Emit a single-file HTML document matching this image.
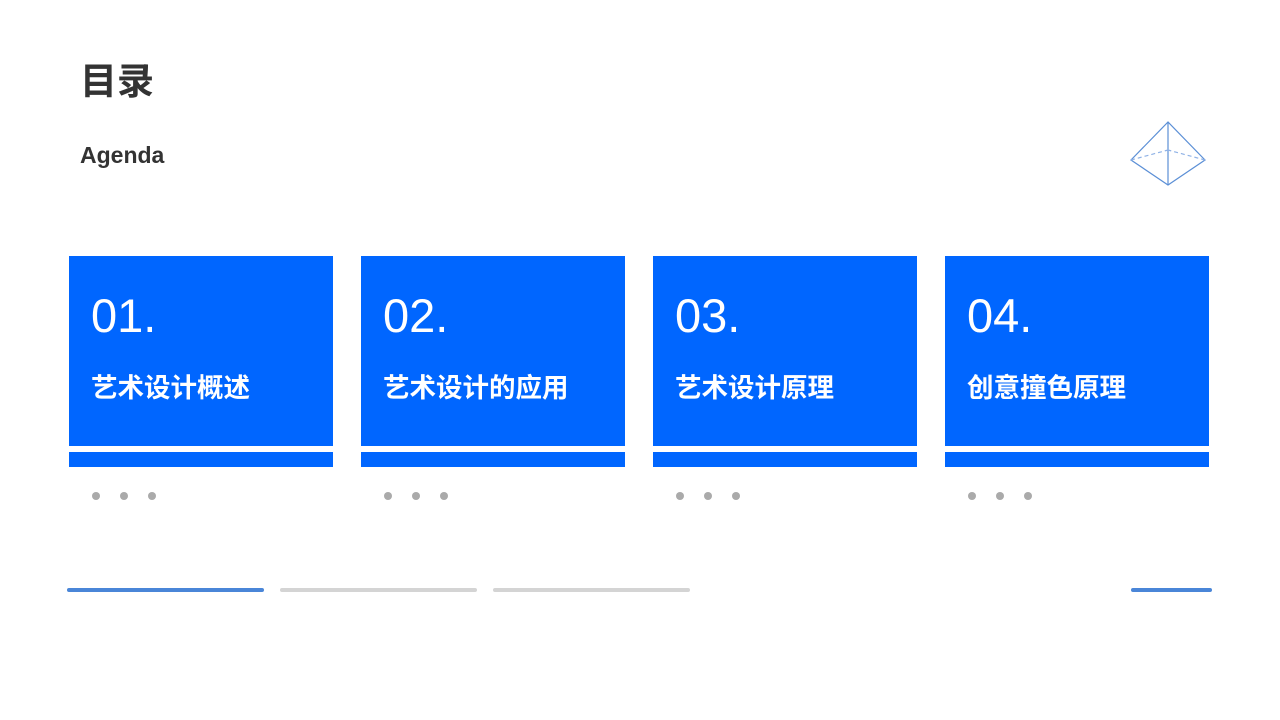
<!DOCTYPE html>
<html><head><meta charset="utf-8"><style>
body{margin:0;width:1280px;height:720px;background:#fff;position:relative;overflow:hidden;font-family:"Liberation Sans","Noto Sans CJK SC",sans-serif}
.a{position:absolute}
.card{position:absolute;top:256px;width:264px;height:190px;background:#0066ff;color:#fff}
.bar{position:absolute;top:452px;width:264px;height:15px;background:#0066ff}
.num{position:absolute;left:22px;top:34px;font-size:47px;line-height:52px}
.t{position:absolute;left:22px;top:114px;font-size:26.5px;font-weight:bold;line-height:36px}
.dot{position:absolute;top:492px;width:8px;height:8px;border-radius:50%;background:#aaa}
.ln{position:absolute;top:588px;height:4px;border-radius:2px}
</style></head><body>
<div class="a" style="left:80px;top:59px;font-size:37px;font-weight:bold;color:#333;line-height:46px">目录</div>
<div class="a" style="left:80px;top:142px;font-size:23px;font-weight:bold;color:#333;line-height:26px">Agenda</div>
<svg class="a" style="left:0;top:0" width="1280" height="720">
<g stroke="#5b8fd6" stroke-width="1.2" fill="none">
<polygon points="1168,122 1131,160 1168,185 1205,160"/>
<line x1="1168" y1="122" x2="1168" y2="185"/>
<g stroke-dasharray="4,3" stroke="#8fb2e6"><line x1="1131" y1="160" x2="1168" y2="150"/><line x1="1205" y1="160" x2="1168" y2="150"/></g>
</g></svg>
<div class="card" style="left:69px"><div class="num">01.</div><div class="t">艺术设计概述</div></div>
<div class="card" style="left:361px"><div class="num">02.</div><div class="t">艺术设计的应用</div></div>
<div class="card" style="left:653px"><div class="num">03.</div><div class="t">艺术设计原理</div></div>
<div class="card" style="left:945px"><div class="num">04.</div><div class="t">创意撞色原理</div></div>
<div class="bar" style="left:69px"></div><div class="bar" style="left:361px"></div><div class="bar" style="left:653px"></div><div class="bar" style="left:945px"></div>
<div class="dot" style="left:92px"></div><div class="dot" style="left:120px"></div><div class="dot" style="left:148px"></div>
<div class="dot" style="left:384px"></div><div class="dot" style="left:412px"></div><div class="dot" style="left:440px"></div>
<div class="dot" style="left:676px"></div><div class="dot" style="left:704px"></div><div class="dot" style="left:732px"></div>
<div class="dot" style="left:968px"></div><div class="dot" style="left:996px"></div><div class="dot" style="left:1024px"></div>
<div class="ln" style="left:67px;width:197px;background:#4a86d8"></div>
<div class="ln" style="left:280px;width:197px;background:#d4d4d4"></div>
<div class="ln" style="left:493px;width:197px;background:#d4d4d4"></div>
<div class="ln" style="left:1131px;width:81px;background:#4a86d8"></div>
</body></html>
